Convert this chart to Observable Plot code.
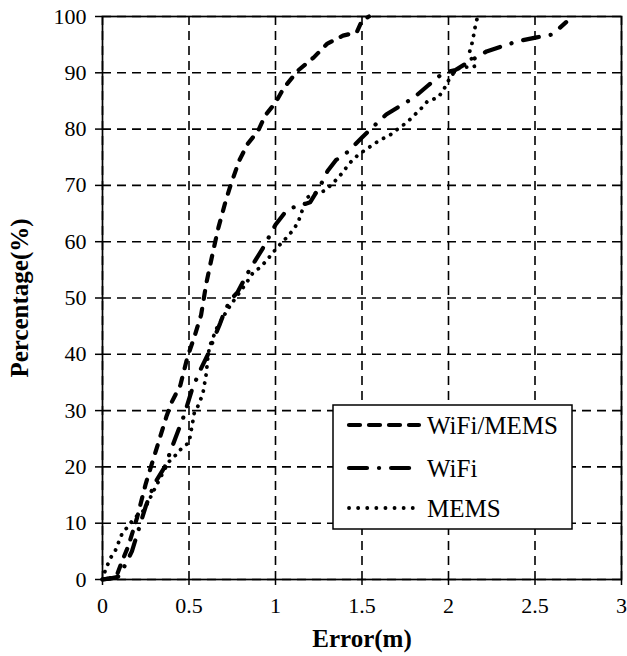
<!DOCTYPE html>
<html><head><meta charset="utf-8">
<script src="https://cdn.jsdelivr.net/npm/d3@7"></script>
<script src="https://cdn.jsdelivr.net/npm/@observablehq/plot@0.6"></script>
<style>
body{margin:0;background:#fff;}
svg, svg text{font-family:"Liberation Serif","DejaVu Serif",serif !important;}
g[aria-label="x-axis label"] text, g[aria-label="y-axis label"] text{font-weight:bold;font-size:25px;}
</style></head><body><div id="chart"></div>
<script>
const xTicks = [0, 0.5, 1, 1.5, 2, 2.5, 3];
const yTicks = [0, 10, 20, 30, 40, 50, 60, 70, 80, 90, 100];
const seriesNames = ["WiFi/MEMS", "WiFi", "MEMS"];
const xLabel = "Error(m)";
const yLabel = "Percentage(%)";

const wifiMemsX = [0, 0.04, 0.08, 0.11, 0.15, 0.2, 0.25, 0.28, 0.33, 0.37, 0.4, 0.45, 0.49, 0.53, 0.57, 0.6, 0.64, 0.67, 0.71, 0.74, 0.79, 0.84, 0.9, 0.94, 1.0, 1.05, 1.13, 1.22, 1.3, 1.39, 1.47, 1.5, 1.54];
const wifiMemsY = [0, 0.2, 0.5, 3, 6, 11, 17, 20, 25, 29, 31.5, 34.5, 39.4, 43, 47, 52.6, 58.4, 62.5, 67, 70, 74.4, 77.4, 79.7, 82.4, 84.7, 87.4, 90.4, 92.7, 95.2, 96.6, 97.2, 99.3, 100];

const wifiX = [0, 0.05, 0.09, 0.13, 0.17, 0.2, 0.25, 0.3, 0.36, 0.42, 0.47, 0.52, 0.57, 0.61, 0.64, 0.68, 0.71, 0.75, 0.78, 0.85, 0.93, 1.0, 1.05, 1.09, 1.13, 1.2, 1.26, 1.3, 1.35, 1.42, 1.5, 1.56, 1.64, 1.73, 1.8, 1.88, 1.97, 2.04, 2.12, 2.22, 2.3, 2.4, 2.51, 2.6, 2.68];
const wifiY = [0, 0.2, 0.5, 2.5, 5, 8, 13, 17, 20, 25, 29, 34, 37.5, 40, 42.5, 45.5, 48, 50, 51, 55, 59, 63, 65, 66, 66.3, 67, 70, 72.5, 74.5, 76, 78.5, 80.3, 82.6, 84.3, 85.6, 87.7, 90, 90.5, 92, 93.8, 94.6, 95.6, 96.3, 96.8, 99];

const memsX = [0, 0.02, 0.05, 0.075, 0.115, 0.15, 0.18, 0.24, 0.3, 0.35, 0.38, 0.42, 0.46, 0.5, 0.52, 0.53, 0.555, 0.58, 0.6, 0.61, 0.62, 0.66, 0.72, 0.76, 0.83, 0.87, 0.91, 0.95, 0.98, 1.02, 1.06, 1.1, 1.13, 1.18, 1.22, 1.28, 1.33, 1.38, 1.43, 1.48, 1.53, 1.57, 1.62, 1.66, 1.71, 1.76, 1.8, 1.84, 1.88, 1.94, 1.97, 2.01, 2.05, 2.1, 2.15, 2.12, 2.14, 2.15, 2.16, 2.17];
const memsY = [0, 2, 4, 5.2, 8.3, 9.5, 10.8, 12.3, 16, 19, 20.8, 22, 23.4, 24.3, 27.7, 29.5, 31, 33, 36.6, 39.8, 41.5, 44.6, 47.8, 49.6, 52.6, 54.5, 55.4, 56.7, 57.9, 59.3, 60.6, 62, 63.4, 67.8, 68.5, 69, 70.3, 72, 74, 75.5, 76.5, 77.4, 78.3, 78.9, 80.1, 81.2, 82.4, 83.6, 85, 85.6, 86.9, 89.2, 90.7, 91, 91.1, 93.5, 95.7, 97.5, 99.1, 100];

const toRows = (xs, ys) => xs.map((x, i) => ({x, y: ys[i]}));
const wm = toRows(wifiMemsX, wifiMemsY);
const wf = toRows(wifiX, wifiY);
const ms = toRows(memsX, memsY);

const dashWM = {stroke: "#000", strokeWidth: 4.2, strokeDasharray: "8,10", strokeLinecap: "round", strokeLinejoin: "round"};
const dashWF = {stroke: "#000", strokeWidth: 4.2, strokeDasharray: "16,12,0.1,12", strokeLinecap: "round", strokeLinejoin: "round"};
const dashMS = {stroke: "#000", strokeWidth: 3.8, strokeDasharray: "0.1,8", strokeLinecap: "round", strokeLinejoin: "round"};
const gridStyle = {stroke: "#000", strokeOpacity: 1, strokeWidth: 1.6, strokeDasharray: "9,6"};

const plot = Plot.plot({
  width: 627, height: 656,
  marginLeft: 102, marginRight: 6, marginTop: 16, marginBottom: 77,
  style: {background: "#fff", color: "#000"},
  x: {domain: [0, 3]},
  y: {domain: [0, 100]},
  marks: [
    Plot.gridX(xTicks, gridStyle),
    Plot.gridY(yTicks, gridStyle),
    Plot.line(ms, {x: "x", y: "y", ...dashMS}),
    Plot.line(wf, {x: "x", y: "y", ...dashWF}),
    Plot.line(wm, {x: "x", y: "y", ...dashWM}),
    Plot.frame({stroke: "#000", strokeWidth: 1.7}),
    Plot.axisX(xTicks, {tickSize: 6, tickPadding: 12, fontSize: 22, strokeWidth: 1.5, tickFormat: d => String(d), label: xLabel, labelAnchor: "center", labelOffset: 67, labelArrow: "none", color: "#000"}),
    Plot.axisY(yTicks, {tickSize: 7, tickPadding: 9, fontSize: 22, strokeWidth: 1.5, tickFormat: d => String(d), label: yLabel, labelAnchor: "center", labelOffset: 92, labelArrow: "none", color: "#000"})
  ]
});
document.getElementById("chart").append(plot);

// legend
const svg = d3.select(plot);
const lg = svg.append("g").attr("class", "legend").attr("text-anchor", "start");
lg.append("rect").attr("x", 333).attr("y", 405).attr("width", 239).attr("height", 124)
  .attr("fill", "#fff").attr("stroke", "#000").attr("stroke-width", 1.5);
const entries = [
  {name: seriesNames[0], cy: 425, st: {...dashWM, strokeDasharray: "11,9"}},
  {name: seriesNames[1], cy: 468, st: {...dashWF, strokeDasharray: "18,12,0.1,12"}},
  {name: seriesNames[2], cy: 508, st: {...dashMS, strokeDasharray: "0.1,9"}}
];
entries.forEach(e => {
  lg.append("line").attr("x1", 349).attr("x2", 419).attr("y1", e.cy).attr("y2", e.cy)
    .attr("stroke", e.st.stroke).attr("stroke-width", e.st.strokeWidth)
    .attr("stroke-dasharray", e.st.strokeDasharray).attr("stroke-linecap", "round");
  lg.append("text").attr("x", 427).attr("y", e.cy).attr("dy", "0.35em")
    .attr("text-anchor", "start").attr("font-size", 25).attr("fill", "#000").text(e.name);
});
</script></body></html>
